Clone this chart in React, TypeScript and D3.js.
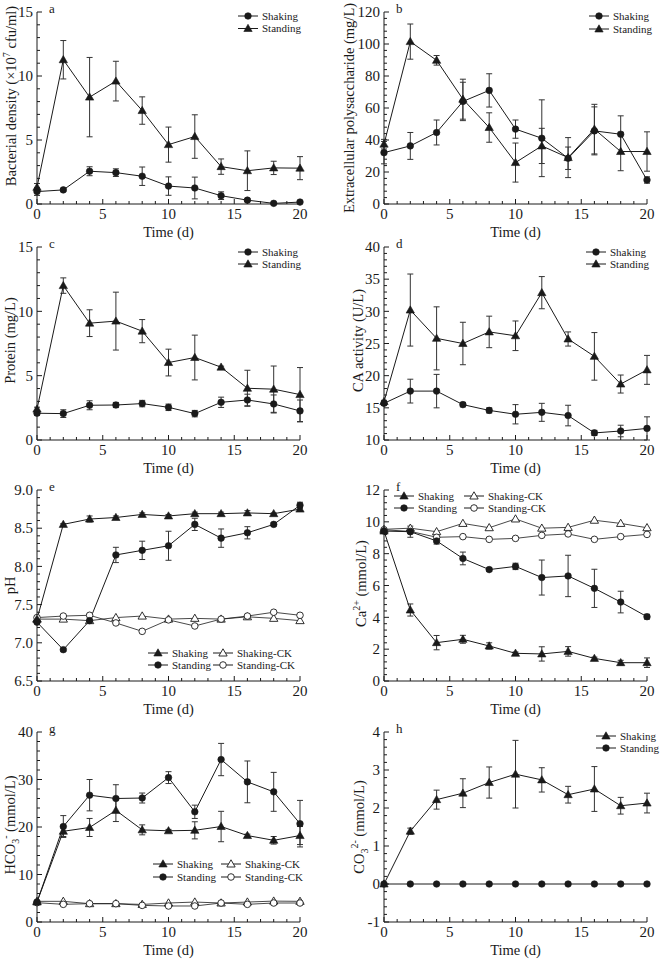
import React from 'react';
import * as d3 from 'd3';

const days = [0, 2, 4, 6, 8, 10, 12, 14, 16, 18, 20];
const xTicks = [0, 5, 10, 15, 20];

// a: bacterial density
const aShaking = [0.97, 1.1, 2.56, 2.45, 2.17, 1.4, 1.25, 0.65, 0.3, 0.05, 0.15];
const aShakingErr = [0.3, 0.1, 0.35, 0.3, 0.72, 0.72, 0.85, 0.3, 0.1, 0.05, 0.05];
const aStanding = [1.3, 11.27, 8.35, 9.6, 7.3, 4.64, 5.27, 2.92, 2.6, 2.82, 2.8];
const aStandingErr = [0.3, 1.5, 3.1, 1.55, 1.07, 1.37, 1.7, 0.6, 1.55, 0.52, 0.9];

// b: extracellular polysaccharide
const bShaking = [32.1, 36.3, 44.7, 64.1, 71, 46.8, 41.1, 28.6, 45.7, 43.6, 15];
const bShakingErr = [7, 8.4, 7.8, 12, 10.4, 5.7, 24, 7, 15, 11.5, 2];
const bStanding = [37.4, 101.5, 89.8, 65.5, 47.8, 25.9, 36.3, 29, 46.8, 32.8, 32.8];
const bStandingErr = [3, 11, 3, 12.5, 9.2, 12.2, 11, 12.5, 15.5, 12, 12.3];

// c: protein
const cShaking = [2.08, 2.05, 2.7, 2.72, 2.83, 2.54, 2.05, 2.93, 3.11, 2.8, 2.26];
const cShakingErr = [0.15, 0.3, 0.35, 0.2, 0.25, 0.25, 0.25, 0.4, 0.45, 0.7, 0.85];
const cStanding = [2.4, 12.0, 9.08, 9.24, 8.46, 6.02, 6.41, 5.66, 4.02, 3.95, 3.53];
const cStandingErr = [0.15, 0.6, 1.04, 2.25, 0.9, 1.04, 1.74, 0.08, 1.4, 1.8, 2.1];

// d: CA activity
const dShaking = [15.7, 17.6, 17.6, 15.5, 14.6, 14.0, 14.3, 13.8, 11.1, 11.4, 11.8];
const dShakingErr = [0.3, 1.85, 2.6, 0.35, 0.4, 1.5, 1.4, 1.6, 0.4, 0.9, 1.8];
const dStanding = [15.97, 30.2, 25.8, 25.0, 26.8, 26.2, 32.9, 25.7, 23.0, 18.7, 20.9];
const dStandingErr = [0.2, 5.6, 4.9, 3.3, 2.45, 2.3, 2.5, 1.1, 3.7, 1.4, 2.25];

// e: pH
const eShaking = [7.31, 8.55, 8.62, 8.64, 8.68, 8.66, 8.69, 8.69, 8.7, 8.69, 8.75];
const eShakingErr = [0.01, 0.01, 0.04, 0.02, 0.02, 0.02, 0.02, 0.02, 0.03, 0.01, 0.02];
const eStanding = [7.27, 6.91, 7.29, 8.15, 8.21, 8.27, 8.55, 8.37, 8.44, 8.55, 8.8];
const eStandingErr = [0.01, 0.02, 0.01, 0.1, 0.12, 0.19, 0.08, 0.12, 0.08, 0.02, 0.04];
const eShakingCK = [7.31, 7.31, 7.29, 7.33, 7.35, 7.31, 7.32, 7.31, 7.34, 7.32, 7.29];
const eStandingCK = [7.33, 7.35, 7.36, 7.26, 7.15, 7.3, 7.22, 7.31, 7.35, 7.4, 7.36];

// f: Ca2+
const fShaking = [9.42, 4.46, 2.41, 2.62, 2.2, 1.74, 1.7, 1.86, 1.42, 1.15, 1.15];
const fShakingErr = [0.1, 0.38, 0.45, 0.25, 0.2, 0.08, 0.45, 0.3, 0.08, 0.15, 0.3];
const fStanding = [9.42, 9.38, 8.8, 7.7, 7.0, 7.2, 6.5, 6.6, 5.82, 4.96, 4.04];
const fStandingErr = [0.1, 0.35, 0.2, 0.4, 0.1, 0.2, 1.1, 1.3, 1.2, 0.68, 0.15];
const fShakingCK = [9.53, 9.6, 9.38, 9.9, 9.63, 10.18, 9.6, 9.65, 10.1, 9.9, 9.63];
const fStandingCK = [9.5, 9.4, 9.03, 9.07, 8.9, 8.96, 9.15, 9.24, 8.9, 9.07, 9.21];

// g: HCO3-
const gShaking = [4.2, 19.1, 19.9, 23.5, 19.4, 19.2, 19.3, 20.1, 18.2, 17.2, 18.2];
const gShakingErr = [0.2, 1.1, 1.9, 2.35, 1.05, 0.3, 1.8, 3.2, 0.3, 0.8, 1.9];
const gStanding = [4.2, 20.1, 26.7, 26.0, 26.1, 30.4, 23.2, 34.2, 29.5, 27.4, 20.7];
const gStandingErr = [0.2, 2.3, 3.3, 2.9, 1.05, 1.25, 1.4, 3.4, 4.4, 4.1, 4.9];
const gShakingCK = [4.35, 4.35, 3.86, 3.86, 3.7, 4.0, 4.2, 4.0, 4.2, 4.4, 4.35];
const gStandingCK = [4.07, 3.72, 3.86, 3.86, 3.5, 3.37, 3.37, 4.0, 3.72, 4.0, 4.0];

// h: CO3 2-
const hShaking = [0, 1.39, 2.22, 2.39, 2.67, 2.89, 2.74, 2.35, 2.5, 2.06, 2.13];
const hShakingErr = [0, 0.08, 0.25, 0.38, 0.41, 0.89, 0.32, 0.22, 0.59, 0.22, 0.26];
const hStanding = [0, 0, 0, 0, 0, 0, 0, 0, 0, 0, 0];

type Marker = 'circle' | 'triangle';
interface Series { name: string; values: number[]; errors?: number[]; marker: Marker; filled: boolean; }
interface Panel {
  id: string; col: number; row: number; yDomain: [number, number]; yStep: number; yFmt: (v: number) => string;
  yLabel: React.ReactNode; yLabelX: number; yLabelShift: number; series: Series[];
  legend: { cols: { dx: number; names: string[] }[]; dy: number[] };
}

const COLS = [[37, 300], [384, 647]];
const ROWS = [[12, 204], [247, 440], [490, 681], [732, 922]];
const FONT = '"Liberation Serif", "Times New Roman", serif';
const INK = '#1a1a1a';

const intFmt = (v: number) => String(v);
const oneFmt = (v: number) => v.toFixed(1);

const panels: Panel[] = [
  {
    id: 'a', col: 0, row: 0, yDomain: [0, 15], yStep: 5, yFmt: intFmt, yLabelX: 11, yLabelShift: -12,
    yLabel: <>Bacterial density (×10<tspan dy={-6} fontSize={10}>7</tspan><tspan dy={6}> cfu/ml)</tspan></>,
    series: [
      { name: 'Shaking', values: aShaking, errors: aShakingErr, marker: 'circle', filled: true },
      { name: 'Standing', values: aStanding, errors: aStandingErr, marker: 'triangle', filled: true },
    ],
    legend: { cols: [{ dx: 201, names: ['Shaking', 'Standing'] }], dy: [4, 16.5] },
  },
  {
    id: 'b', col: 1, row: 0, yDomain: [0, 120], yStep: 20, yFmt: intFmt, yLabelX: 349, yLabelShift: 0,
    yLabel: <>Extracellular polysaccharide (mg/L)</>,
    series: [
      { name: 'Shaking', values: bShaking, errors: bShakingErr, marker: 'circle', filled: true },
      { name: 'Standing', values: bStanding, errors: bStandingErr, marker: 'triangle', filled: true },
    ],
    legend: { cols: [{ dx: 205, names: ['Shaking', 'Standing'] }], dy: [4, 17] },
  },
  {
    id: 'c', col: 0, row: 1, yDomain: [0, 15], yStep: 5, yFmt: intFmt, yLabelX: 10, yLabelShift: -3,
    yLabel: <>Protein (mg/L)</>,
    series: [
      { name: 'Shaking', values: cShaking, errors: cShakingErr, marker: 'circle', filled: true },
      { name: 'Standing', values: cStanding, errors: cStandingErr, marker: 'triangle', filled: true },
    ],
    legend: { cols: [{ dx: 201, names: ['Shaking', 'Standing'] }], dy: [5, 17] },
  },
  {
    id: 'd', col: 1, row: 1, yDomain: [10, 40], yStep: 5, yFmt: intFmt, yLabelX: 358, yLabelShift: -3,
    yLabel: <>CA activity (U/L)</>,
    series: [
      { name: 'Shaking', values: dShaking, errors: dShakingErr, marker: 'circle', filled: true },
      { name: 'Standing', values: dStanding, errors: dStandingErr, marker: 'triangle', filled: true },
    ],
    legend: { cols: [{ dx: 202, names: ['Shaking', 'Standing'] }], dy: [5, 17] },
  },
  {
    id: 'e', col: 0, row: 2, yDomain: [6.5, 9.0], yStep: 0.5, yFmt: oneFmt, yLabelX: 10, yLabelShift: 0,
    yLabel: <>pH</>,
    series: [
      { name: 'Shaking-CK', values: eShakingCK, marker: 'triangle', filled: false },
      { name: 'Standing-CK', values: eStandingCK, marker: 'circle', filled: false },
      { name: 'Shaking', values: eShaking, errors: eShakingErr, marker: 'triangle', filled: true },
      { name: 'Standing', values: eStanding, errors: eStandingErr, marker: 'circle', filled: true },
    ],
    legend: { cols: [{ dx: 111, names: ['Shaking', 'Standing'] }, { dx: 176, names: ['Shaking-CK', 'Standing-CK'] }], dy: [163, 175] },
  },
  {
    id: 'f', col: 1, row: 2, yDomain: [0, 12], yStep: 2, yFmt: intFmt, yLabelX: 361, yLabelShift: -2,
    yLabel: <>Ca<tspan dy={-6} fontSize={10}>2+</tspan><tspan dy={6}> (mmol/L)</tspan></>,
    series: [
      { name: 'Shaking-CK', values: fShakingCK, marker: 'triangle', filled: false },
      { name: 'Standing-CK', values: fStandingCK, marker: 'circle', filled: false },
      { name: 'Shaking', values: fShaking, errors: fShakingErr, marker: 'triangle', filled: true },
      { name: 'Standing', values: fStanding, errors: fStandingErr, marker: 'circle', filled: true },
    ],
    legend: { cols: [{ dx: 10, names: ['Shaking', 'Standing'] }, { dx: 80, names: ['Shaking-CK', 'Standing-CK'] }], dy: [6, 18] },
  },
  {
    id: 'g', col: 0, row: 3, yDomain: [0, 40], yStep: 10, yFmt: intFmt, yLabelX: 10, yLabelShift: -2,
    yLabel: <>HCO<tspan dy={4} fontSize={10}>3</tspan><tspan dy={-10} fontSize={10}>-</tspan><tspan dy={6}> (mmol/L)</tspan></>,
    series: [
      { name: 'Shaking-CK', values: gShakingCK, marker: 'triangle', filled: false },
      { name: 'Standing-CK', values: gStandingCK, marker: 'circle', filled: false },
      { name: 'Shaking', values: gShaking, errors: gShakingErr, marker: 'triangle', filled: true },
      { name: 'Standing', values: gStanding, errors: gStandingErr, marker: 'circle', filled: true },
    ],
    legend: { cols: [{ dx: 116, names: ['Shaking', 'Standing'] }, { dx: 184, names: ['Shaking-CK', 'Standing-CK'] }], dy: [132, 145] },
  },
  {
    id: 'h', col: 1, row: 3, yDomain: [-1, 4], yStep: 1, yFmt: intFmt, yLabelX: 359, yLabelShift: 0,
    yLabel: <>CO<tspan dy={4} fontSize={10}>3</tspan><tspan dy={-10} fontSize={10}>2-</tspan><tspan dy={6}> (mmol/L)</tspan></>,
    series: [
      { name: 'Shaking', values: hShaking, errors: hShakingErr, marker: 'triangle', filled: true },
      { name: 'Standing', values: hStanding, marker: 'circle', filled: true },
    ],
    legend: { cols: [{ dx: 212, names: ['Shaking', 'Standing'] }], dy: [4, 16] },
  },
];

const triPath = () => d3.symbol(d3.symbolTriangle, 30)()!;

function MarkerShape({ x, y, marker, filled }: { x: number; y: number; marker: Marker; filled: boolean }) {
  const fill = filled ? INK : '#fff';
  if (marker === 'circle') {
    return <circle cx={x} cy={y} r={3.3} fill={fill} stroke={INK} strokeWidth={filled ? 0.6 : 0.9} />;
  }
  return <path d={triPath()} transform={`translate(${x},${y + 0.6})`} fill={fill} stroke={INK} strokeWidth={filled ? 0.6 : 0.9} strokeLinejoin="round" />;
}

function PanelView({ p }: { p: Panel }) {
  const [x0, x1] = COLS[p.col];
  const [top, bottom] = ROWS[p.row];
  const x = d3.scaleLinear().domain([0, 20]).range([x0, x1]);
  const y = d3.scaleLinear().domain(p.yDomain).range([bottom, top]);
  const yMajor = d3.range(p.yDomain[0], p.yDomain[1] + p.yStep / 100, p.yStep);
  const yMinor = d3.range(p.yDomain[0], p.yDomain[1] + p.yStep / 100, p.yStep / 5);
  const xMinor = d3.range(0, 20.001, 1);
  const line = d3.line<number>().x((_, i) => x(days[i])).y((v) => y(v));
  const seriesByName: Record<string, Series> = {};
  p.series.forEach((s) => (seriesByName[s.name] = s));
  const yMid = (top + bottom) / 2 + p.yLabelShift;
  return (
    <g>
      <line x1={x0} x2={x1} y1={bottom} y2={bottom} stroke={INK} strokeWidth={1} />
      <line x1={x0} x2={x0} y1={top} y2={bottom} stroke={INK} strokeWidth={1} />
      {xMinor.map((t) => (
        <line key={'xm' + t} x1={x(t)} x2={x(t)} y1={bottom} y2={bottom - (t % 5 === 0 ? 5 : 3)} stroke={INK} strokeWidth={1} />
      ))}
      {yMinor.map((t, i) => (
        <line key={'ym' + i} x1={x0} x2={x0 + (i % 5 === 0 ? 5 : 3)} y1={y(t)} y2={y(t)} stroke={INK} strokeWidth={1} />
      ))}
      {xTicks.map((t) => (
        <text key={'xt' + t} x={x(t)} y={bottom + 15} textAnchor="middle" fontSize={15} fontFamily={FONT} fill={INK}>{t}</text>
      ))}
      {yMajor.map((t, i) => (
        <text key={'yt' + i} x={x0 - 4} y={y(t)} dy="0.35em" textAnchor="end" fontSize={15} fontFamily={FONT} fill={INK}>{p.yFmt(+t.toFixed(2))}</text>
      ))}
      <text x={(x0 + x1) / 2} y={bottom + 33} textAnchor="middle" fontSize={14.5} fontFamily={FONT} fill={INK}>Time (d)</text>
      <text transform={`translate(${p.yLabelX + 5},${yMid}) rotate(-90)`} textAnchor="middle" fontSize={14.5} fontFamily={FONT} fill={INK}>{p.yLabel}</text>
      <text x={x0 + 12} y={top + 0.5} fontSize={13} fontFamily={FONT} fill={INK}>{p.id}</text>
      {p.series.map((s) =>
        s.errors ? s.values.map((v, i) => {
          const e = s.errors![i];
          if (e <= 0.0001) return null;
          const cx = x(days[i]);
          return (
            <g key={s.name + 'e' + i} stroke="#333" strokeWidth={1}>
              <line x1={cx} x2={cx} y1={y(v - e)} y2={y(v + e)} />
              <line x1={cx - 3} x2={cx + 3} y1={y(v - e)} y2={y(v - e)} />
              <line x1={cx - 3} x2={cx + 3} y1={y(v + e)} y2={y(v + e)} />
            </g>
          );
        }) : null
      )}
      {p.series.map((s) => (
        <path key={s.name + 'l'} d={line(s.values)!} fill="none" stroke={INK} strokeWidth={s.filled ? 1 : 0.8} />
      ))}
      {p.series.map((s) =>
        s.values.map((v, i) => <MarkerShape key={s.name + 'm' + i} x={x(days[i])} y={y(v)} marker={s.marker} filled={s.filled} />)
      )}
      {p.legend.cols.map((c) =>
        c.names.map((n, r) => {
          const s = seriesByName[n];
          const lx = x0 + c.dx;
          const ly = top + p.legend.dy[r];
          return (
            <g key={'lg' + n}>
              <line x1={lx} x2={lx + 20} y1={ly} y2={ly} stroke={INK} strokeWidth={1} />
              <MarkerShape x={lx + 10} y={ly} marker={s.marker} filled={s.filled} />
              <text x={lx + 24} y={ly} dy="0.35em" fontSize={11} fontFamily={FONT} fill={INK}>{n}</text>
            </g>
          );
        })
      )}
    </g>
  );
}

export default function App() {
  return (
    <svg width={662} height={963} style={{ position: 'absolute', left: 0, top: 0, background: '#fff' }}>
      <rect width={662} height={963} fill="#fff" />
      {panels.map((p) => <PanelView key={p.id} p={p} />)}
    </svg>
  );
}
